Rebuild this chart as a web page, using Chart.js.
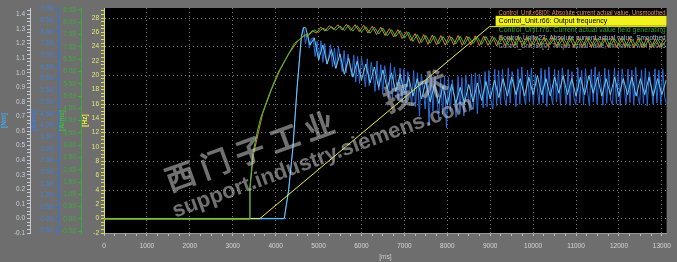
<!DOCTYPE html>
<html>
<head>
<meta charset="utf-8">
<script src="https://cdn.jsdelivr.net/npm/chart.js@4.4.1/dist/chart.umd.min.js"></script>
<style>
  html, body { margin: 0; padding: 0; background: #6e6e6e; }
  #wrap { width: 677px; height: 262px; }
</style>
</head>
<body>
<div id="wrap"><canvas id="trace" width="677" height="262"></canvas></div>
<script>
// time axis [ms]
const timeMin = 0;
const timeMax = 13110;

// r66 output frequency [Hz]
const freqTimes = [0, 3630, 8980, 13110];
const freqValues = [0, 0, 26.8, 26.8];

// r76 field generating current [Arms] (green axis)
const fieldRiseTimes = [0, 3395, 3400, 3470, 3580, 3650, 3860, 4050, 4260, 4440, 4630];
const fieldRiseValues = [0, 0, 1.3, 2.68, 3.62, 4.1, 5.12, 5.93, 6.59, 7.15, 7.4];
const fieldStart = 4700, fieldStep = 100;
const fieldNoise = [
  7.5, 7.52, 7.68, 7.6, 7.76, 7.66, 7.82, 7.68, 7.85, 7.66, 7.88, 7.64, 7.86, 7.6, 7.82, 7.55, 7.8, 7.52, 7.76, 7.45,
  7.7, 7.42, 7.66, 7.35, 7.6, 7.22, 7.5, 7.18, 7.46, 7.15, 7.44, 7.12, 7.42, 7.14, 7.4, 7.12, 7.43, 7.1, 7.41, 7.13,
  7.4, 7.1, 7.42, 7.12, 7.38, 7.1, 7.4, 7.11, 7.39, 7.08, 7.41, 7.1, 7.37, 7.09, 7.4, 7.08, 7.36, 7.1, 7.38, 7.07,
  7.35, 7.09, 7.37, 7.06, 7.34, 7.08, 7.36, 7.05, 7.33, 7.07, 7.35, 7.04, 7.32, 7.06, 7.34, 7.03, 7.31, 7.05, 7.33, 7.02,
  7.3, 7.04, 7.32, 7.03, 7.28
];

// r68 absolute current, unsmoothed [Arms] (green axis)
const absRiseTimes = [0, 3395, 3400, 3480, 3600, 3700, 3900, 4100, 4300, 4500, 4650];
const absRiseValues = [0, 0, 1.2, 2.6, 3.55, 4.3, 5.25, 6.05, 6.7, 7.2, 7.45];
const absStart = 4750, absStep = 100;
const absNoise = [
  7.44, 7.66, 7.56, 7.8, 7.64, 7.86, 7.7, 7.9, 7.68, 7.92, 7.66, 7.9, 7.62, 7.88, 7.56, 7.84, 7.5, 7.8, 7.46, 7.74,
  7.4, 7.7, 7.34, 7.62, 7.25, 7.54, 7.14, 7.5, 7.1, 7.48, 7.08, 7.46, 7.07, 7.45, 7.08, 7.46, 7.06, 7.44, 7.07, 7.45,
  7.05, 7.44, 7.06, 7.43, 7.04, 7.44, 7.05, 7.42, 7.03, 7.43, 7.04, 7.41, 7.02, 7.42, 7.03, 7.4, 7.02, 7.41, 7.01, 7.4,
  7.02, 7.39, 7.0, 7.4, 7.01, 7.38, 6.99, 7.39, 7.0, 7.37, 6.99, 7.38, 6.98, 7.36, 6.99, 7.37, 6.97, 7.35, 6.98, 7.36,
  6.96, 7.34, 6.97, 7.35
];

// r27 absolute current, smoothed [Arms] (blue axis)
const smoothRiseTimes = [0, 4200, 4300, 4400, 4500, 4600];
const smoothRiseValues = [0, 0, 1.2, 3.0, 5.6, 7.8];
const smoothStart = 4650, smoothStep = 45;
const smoothNoise = [
  8.2, 7.5, 7.95, 7.3, 7.7, 7.75, 6.95, 7.6, 6.8,
  7.62, 6.7, 7.5, 6.62, 6.9, 7.45, 6.5, 7.3, 6.45, 7.38, 6.9, 6.3, 7.2, 6.25, 7.05, 6.6, 6.1, 7.0,
  5.85, 6.95, 5.8, 6.9, 6.4, 5.65, 6.85, 5.7, 6.7, 6.2, 5.45, 6.75, 5.5, 6.6, 5.35, 6.55, 6.0,
  5.2, 6.65, 5.15, 6.5, 5.9, 5.05, 6.45, 5.0, 6.4, 4.95, 6.3, 5.6, 4.85, 6.35,
  4.8, 6.25, 4.4, 6.2, 5.5, 4.7, 6.15, 4.0, 6.05, 4.6, 6.1, 5.2, 4.3, 6.0, 4.5, 6.1, 3.9, 6.05, 4.6, 5.95, 5.3, 4.35, 6.1,
  4.55, 6.05, 4.4, 6.15, 5.4, 4.6, 6.2, 4.7, 6.25, 4.5, 6.2, 5.7, 4.75, 6.3, 4.8, 6.35, 5.1, 4.7, 6.4, 4.85, 6.35,
  4.9, 6.4, 5.2, 4.85, 6.45, 4.95, 6.3, 5.75, 4.8, 6.42, 4.9, 6.5, 5.3, 4.88, 6.36, 5.0, 6.45, 4.86, 6.2, 5.6,
  4.9, 6.44, 4.95, 6.38, 4.82, 6.5, 5.4, 4.9, 6.4, 5.0, 6.35, 4.86, 6.46, 5.7, 4.92, 6.4, 4.85, 6.3, 5.2, 4.9,
  6.48, 4.96, 6.36, 4.88, 6.42, 5.5, 4.84, 6.4, 5.0, 6.5, 4.9, 6.3, 5.8, 4.86, 6.44, 4.95, 6.38, 5.1, 4.88, 6.46,
  4.92, 6.34, 4.85, 6.42, 5.6, 4.9, 6.4, 4.98, 6.36, 4.86, 6.48, 5.3, 4.9, 6.38, 4.94, 6.44, 4.84, 6.3, 5.7, 4.9,
  6.42, 4.96, 6.36, 4.88, 6.4, 5.2, 4.9
];

// r80 torque actual value [Nm]
const torqueRiseTimes = [0, 4200, 4300, 4400, 4500, 4600, 4650];
const torqueRiseValues = [0, 0, 0.19, 0.48, 0.9, 1.25, 1.31];
const torqueStart = 4700, torqueStep = 100;
const torqueNoise = [
  1.31, 1.19, 1.24, 1.09, 1.19, 1.06, 1.16, 1.03, 1.13, 0.99, 1.1, 0.97, 1.08, 0.95, 1.06, 0.93, 1.04, 0.9, 1.02, 0.89,
  1.0, 0.87, 0.99, 0.86, 0.97, 0.84, 0.96, 0.82, 0.94, 0.8, 0.92, 0.79, 0.91, 0.78, 0.92, 0.79, 0.9, 0.79, 0.92, 0.8,
  0.93, 0.81, 0.94, 0.82, 0.95, 0.83, 0.96, 0.84, 0.97, 0.85, 0.96, 0.84, 0.97, 0.85, 0.98, 0.85, 0.96, 0.84, 0.97, 0.86,
  0.98, 0.85, 0.96, 0.84, 0.97, 0.85, 0.98, 0.86, 0.97, 0.84, 0.96, 0.85, 0.97, 0.84, 0.96, 0.85, 0.97, 0.84, 0.96, 0.85,
  0.97, 0.84, 0.96, 0.85, 0.95
];

function points(times, values) {
  return times.map((t, i) => ({ x: t, y: values[i] }));
}
function trace(riseT, riseV, start, step, noise) {
  let pts = points(riseT, riseV);
  noise.forEach((v, i) => pts.push({ x: start + i * step, y: v }));
  return pts;
}

const FONT = '"Liberation Sans", Arial, sans-serif';
Chart.defaults.font.family = FONT;
Chart.defaults.font.size = 6.5;

const plotBackground = {
  id: 'plotBackground',
  beforeDraw(chart) {
    const { ctx, chartArea } = chart;
    ctx.save();
    ctx.fillStyle = '#000';
    ctx.fillRect(chartArea.left, chartArea.top, chartArea.right - chartArea.left, chartArea.bottom - chartArea.top);
    ctx.restore();
  }
};

// legend in the top right corner, as in the trace tool
const traceLegend = {
  id: 'traceLegend',
  beforeDatasetsDraw(chart) {
    const { ctx, chartArea } = chart;
    const left = chartArea.right - 168;
    ctx.save();
    ctx.font = '7px ' + FONT;
    ctx.textBaseline = 'middle';
    chart.data.datasets.forEach((ds, row) => {
      const y = chartArea.top + 4.5 + row * 8.3;
      if (ds.highlight) {
        ctx.fillStyle = '#f2f21e';
        ctx.fillRect(left - 3, y - 5, chartArea.right - left + 3, 10);
        ctx.fillStyle = '#000';
      } else {
        ctx.fillStyle = ds.legendColor;
      }
      ctx.fillText(ds.label, left, y + 0.5, chartArea.right - left - 1);
    });
    ctx.restore();
  }
};

const watermark = {
  id: 'watermark',
  afterDraw(chart) {
    const ctx = chart.ctx;
    ctx.save();
    ctx.translate(170, 192);
    ctx.rotate(-20 * Math.PI / 180);
    ctx.fillStyle = 'rgba(205,205,205,0.55)';
    ctx.font = 'bold 30px "Noto Sans CJK SC"';
    ctx.letterSpacing = '7px';
    ctx.fillText('西门子工业', 0, 0);
    ctx.fillText('技术', 232, 0);
    ctx.letterSpacing = '0px';
    ctx.font = 'bold 22px ' + FONT;
    ctx.fillText('support.industry.siemens.com', -4, 26);
    ctx.restore();
  }
};

function leftAxis(color, labelColor, titleText, titleColor, min, max, step, weight, width, fmt) {
  return {
    type: 'linear',
    position: 'left',
    weight: weight,
    min: min,
    max: max,
    afterFit: (s) => { s.width = width; },
    border: { color: color, width: 1 },
    grid: { drawOnChartArea: false, tickLength: 3, tickColor: color },
    ticks: {
      stepSize: step,
      maxTicksLimit: 1000,
      includeBounds: false,
      autoSkip: false,
      color: labelColor,
      padding: 2,
      callback: fmt
    },
    title: { display: true, text: titleText, color: titleColor, padding: 0, font: { size: 6.5, weight: 'bold' } }
  };
}

const isMult = (v, m) => Math.abs(v / m - Math.round(v / m)) < 1e-6;

new Chart(document.getElementById('trace'), {
  type: 'line',
  data: {
    datasets: [
      {
        label: 'Control_Unit.r68[0]: Absolute current actual value, Unsmoothed',
        data: trace(absRiseTimes, absRiseValues, absStart, absStep, absNoise),
        borderColor: '#f07a2a', legendColor: '#ea8a66', yAxisID: 'green', order: 1
      },
      {
        label: 'Control_Unit.r66: Output frequency',
        data: points(freqTimes, freqValues),
        borderColor: '#eeee40', legendColor: '#000', highlight: true, yAxisID: 'hz', order: 2
      },
      {
        label: 'Control_Unit.r76: Current actual value field generating',
        data: trace(fieldRiseTimes, fieldRiseValues, fieldStart, fieldStep, fieldNoise),
        borderColor: '#30c830', legendColor: '#2fa02f', yAxisID: 'green', order: 0
      },
      {
        label: 'Control_Unit.r27: Absolute current actual value, Smoothed',
        data: trace(smoothRiseTimes, smoothRiseValues, smoothStart, smoothStep, smoothNoise),
        borderColor: '#2a6ee0', legendColor: '#a8c4f0', yAxisID: 'blue', order: 4
      },
      {
        label: 'Control_Unit.r80[0]: Torque actual value, Smoothed with p0045',
        data: trace(torqueRiseTimes, torqueRiseValues, torqueStart, torqueStep, torqueNoise),
        borderColor: '#6cc8ee', legendColor: '#98a6b6', yAxisID: 'nm', order: 3
      }
    ]
  },
  options: {
    responsive: false,
    animation: false,
    layout: { padding: { top: 8, right: 9, left: 0, bottom: 0 } },
    plugins: { legend: { display: false }, tooltip: { enabled: false } },
    elements: { point: { radius: 0 }, line: { borderWidth: 1, tension: 0 } },
    scales: {
      x: {
        type: 'linear',
        min: timeMin,
        max: timeMax,
        afterFit: (s) => { s.height = 29; },
        border: { color: '#9a9a9a', dash: [1, 3] },
        grid: {
          tickLength: 3,
          color: (c) => (c.tick && isMult(c.tick.value, 1000)) ? '#7a7a7a' : 'transparent',
          tickColor: '#c0c0c0'
        },
        ticks: {
          stepSize: 250,
          maxTicksLimit: 1000,
          includeBounds: false,
          autoSkip: false,
          maxRotation: 0,
          color: '#d8d8d8',
          padding: 6,
          callback: (v) => isMult(v, 1000) ? String(v) : ''
        },
        title: { display: true, text: '[ms]', color: '#d0d0d0', padding: { top: 0, bottom: 1 }, font: { size: 6.5 } }
      },
      hz: {
        type: 'linear',
        position: 'left',
        weight: 0,
        min: -2,
        max: 29.4,
        afterFit: (s) => { s.width = 23; },
        border: { color: '#e0e040', width: 1, dash: [1, 3] },
        grid: {
          tickLength: 3,
          color: (c) => (c.tick && isMult(c.tick.value, 4)) ? '#7a7a7a' : 'transparent',
          tickColor: '#e0e040'
        },
        ticks: {
          stepSize: 0.5,
          maxTicksLimit: 1000,
          includeBounds: false,
          autoSkip: false,
          color: '#e8e878',
          padding: 2,
          callback: (v) => isMult(v, 2) ? String(v) : ''
        },
        title: { display: true, text: '[Hz]', color: '#f0f040', padding: 0, font: { size: 6.5, weight: 'bold' } }
      },
      green: leftAxis('#34b034', '#3cae3c', '[Arms]', '#3cc03c', -0.57, 8.58, 0.5, 1, 23,
        (v) => isMult(v, 0.5) ? v.toFixed(2) : ''),
      blue: leftAxis('#2f74dc', '#4080dc', '[Arms]', '#3a7ee0', -0.6, 9.02, 0.5, 2, 28,
        (v) => isMult(v, 0.5) ? v.toFixed(2) : ''),
      nm: leftAxis('#c4ccd6', '#c8d0da', '[Nm]', '#4aa8e8', -0.1, 1.445, 0.025, 3, 30,
        (v) => isMult(v, 0.1) ? v.toFixed(1) : '')
    }
  },
  plugins: [plotBackground, traceLegend, watermark]
});
</script>
</body>
</html>
